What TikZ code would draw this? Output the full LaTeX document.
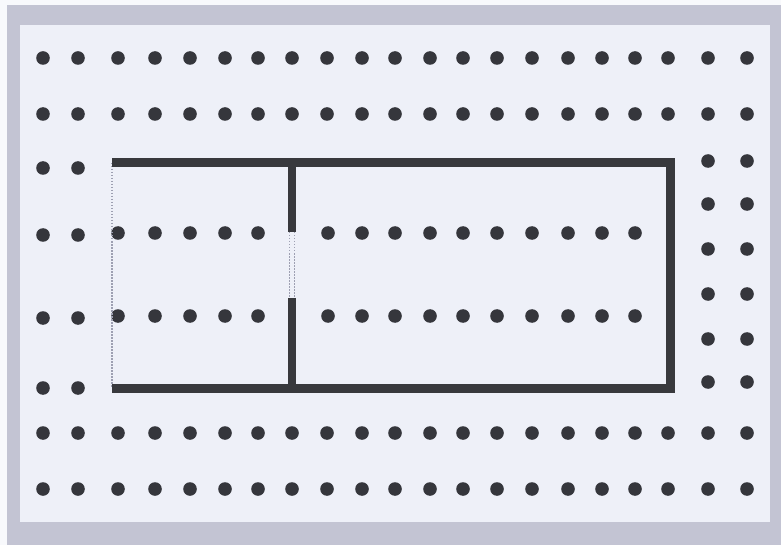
\documentclass[tikz,border=0pt]{standalone}
\usetikzlibrary{backgrounds}
\definecolor{frameband}{HTML}{C3C4D3}
\definecolor{paper}{HTML}{EEF0F8}
\definecolor{dotc}{HTML}{35363C}
\definecolor{linec}{HTML}{38393D}
\definecolor{faintc}{HTML}{9EA0B2}
\tikzset{
  pegdot/.style={fill=dotc},
  wall/.style={draw=linec, line width=9pt, line join=miter},
  faintwall/.style={draw=faintc, line width=1.6pt, dash pattern=on 1.5pt off 1.5pt},
}
\begin{document}
\begin{tikzpicture}[x=1pt,y=-1pt]
\useasboundingbox (0,0) rectangle (781,545);
% frame
\fill[white!60!paper] (0,0) rectangle (781,545);
\fill[frameband] (7,5) rectangle (781,545);
\fill[paper] (20,25) rectangle (770,522);
% full rows
\foreach \y in {58,114,433,489}{
  \foreach \x in {43,78,118,155,190,225,258,292,327,362,395,430,463,497,532,568,602,635,668,708,747}{
    \fill[pegdot] (\x,\y) circle (6.8);
  }
}
% left columns
\foreach \y in {168,235,318,388}{
  \foreach \x in {43,78}{ \fill[pegdot] (\x,\y) circle (6.8); }
}
% right columns
\foreach \y in {161,204,249,294,339,382}{
  \foreach \x in {708,747}{ \fill[pegdot] (\x,\y) circle (6.8); }
}
% interior rows
\foreach \y in {233,316}{
  \foreach \x in {118,155,190,225,258,328,362,395,430,463,497,532,568,602,635}{
    \fill[pegdot] (\x,\y) circle (6.8);
  }
}
% rectangle
\coordinate (tl) at (112,163);
\coordinate (tr) at (670,163);
\coordinate (br) at (670,388);
\coordinate (bl) at (112,388);
\coordinate (dt) at (292,163);
\coordinate (dm1) at (292,232);
\coordinate (dm2) at (292,298);
\coordinate (db) at (292,388);
\draw[faintwall] (tl) -- (bl);
\draw[wall] (tl) -- (tr) -- (br) -- (bl);
\draw[draw=linec, line width=8pt] (dt) -- (dm1);
\draw[draw=linec, line width=8pt] (dm2) -- (db);
\draw[faintwall] ([xshift=-2.5pt]dm1) -- ([xshift=-2.5pt]dm2);
\draw[faintwall] ([xshift=2.5pt]dm1) -- ([xshift=2.5pt]dm2);
\end{tikzpicture}
\end{document}
